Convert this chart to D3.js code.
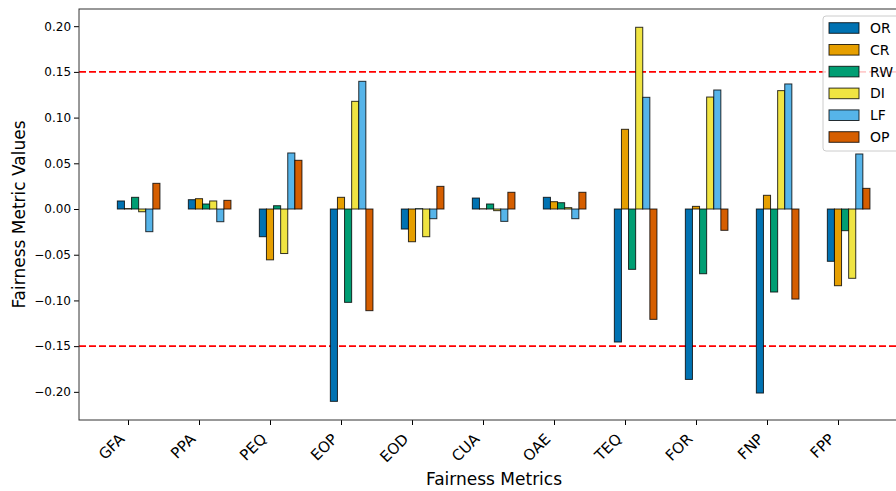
<!DOCTYPE html>
<html>
<head>
<meta charset="utf-8">
<script src="https://cdn.jsdelivr.net/npm/d3@7"></script>
<style>
  html, body { margin: 0; padding: 0; background: #fff; }
  svg { display: block; font-family: "DejaVu Sans", sans-serif; }
</style>
</head>
<body>
<svg id="chart" width="896" height="491"></svg>
<script>
// Fairness metrics (x categories)
const metrics = ["GFA", "PPA", "PEQ", "EOP", "EOD", "CUA", "OAE", "TEQ", "FOR", "FNP", "FPP"];

// One array per mitigation method, values in the order of `metrics`
const OR = [0.0088, 0.0102, -0.0303, -0.2104, -0.0219, 0.0120, 0.0128, -0.1455, -0.1864, -0.2013, -0.0572];
const CR = [0.0005, 0.0113, -0.0556, 0.0128, -0.0358, 0.0003, 0.0080, 0.0872, 0.0029, 0.0150, -0.0839];
const RW = [0.0128, 0.0055, 0.0036, -0.1021, 0.0004, 0.0055, 0.0069, -0.0660, -0.0708, -0.0908, -0.0237];
const DI = [-0.0030, 0.0088, -0.0487, 0.1178, -0.0303, -0.0018, 0.0015, 0.1988, 0.1225, 0.1295, -0.0758];
const LF = [-0.0248, -0.0139, 0.0613, 0.1397, -0.0106, -0.0135, -0.0106, 0.1222, 0.1302, 0.1368, 0.0602];
const OP = [0.0281, 0.0095, 0.0533, -0.1112, 0.0248, 0.0183, 0.0183, -0.1207, -0.0233, -0.0985, 0.0226];

const seriesNames = ["OR", "CR", "RW", "DI", "LF", "OP"];
const seriesValues = [OR, CR, RW, DI, LF, OP];
const seriesColors = ["#0072B2", "#E69F00", "#009E73", "#F0E442", "#56B4E9", "#D55E00"];

const yTicks = [-0.20, -0.15, -0.10, -0.05, 0.00, 0.05, 0.10, 0.15, 0.20];
const thresholds = [0.15, -0.15];

const FONT = "DejaVu Sans";
const svg = d3.select("#chart");

// Plot frame
const plotTop = 9, plotBottom = 420;
const x = d3.scaleLinear().domain([0, metrics.length - 1]).range([128, 838]);
const xMin = -0.69, xMax = 11.0;
const plotLeft = x(xMin), plotRight = x(xMax);
const y = d3.scaleLinear().domain([-0.2308, 0.2188]).range([plotBottom, plotTop]);

const barW = 0.1;         // width of each bar, in category units
const groupStart = -0.15; // offset of the first bar's left edge from the tick

// Threshold lines
svg.append("g").selectAll("line").data(thresholds).join("line")
  .attr("x1", plotLeft).attr("x2", plotRight)
  .attr("y1", d => y(d)).attr("y2", d => y(d))
  .attr("stroke", "#ff0000").attr("stroke-width", 1.8)
  .attr("stroke-dasharray", "7,3");

// Bars
const barsG = svg.append("g");
seriesNames.forEach((name, si) => {
  barsG.append("g").selectAll("rect").data(seriesValues[si]).join("rect")
    .attr("x", (d, i) => x(i + groupStart + barW * si))
    .attr("width", x(barW) - x(0))
    .attr("y", d => y(Math.max(0, d)))
    .attr("height", d => Math.abs(y(d) - y(0)))
    .attr("fill", seriesColors[si])
    .attr("stroke", "#000").attr("stroke-opacity", 0.8).attr("stroke-width", 1);
});

// Axes
const fmt2 = d3.format(".2f");
const yAxis = d3.axisLeft(y).tickValues(yTicks)
  .tickFormat(d => (d < 0 ? "\u2212" : "") + fmt2(Math.abs(d)))
  .tickSize(5).tickPadding(3);
const yG = svg.append("g").attr("transform", `translate(${plotLeft},0)`).call(yAxis)
  .attr("font-family", FONT);
yG.select(".domain").remove();
yG.selectAll("text").attr("font-size", 12).attr("fill", "#000");
yG.selectAll("line").attr("stroke", "#000");

const xAxis = d3.axisBottom(x).tickValues(d3.range(metrics.length)).tickFormat(i => metrics[i]).tickSize(5);
const xG = svg.append("g").attr("transform", `translate(0,${plotBottom})`).call(xAxis)
  .attr("font-family", FONT);
xG.select(".domain").remove();
xG.selectAll("line").attr("stroke", "#000");
xG.selectAll("text")
  .attr("font-size", 15).attr("fill", "#000")
  .attr("text-anchor", "end")
  .attr("dy", null).attr("y", null)
  .attr("transform", "translate(-3,20) rotate(-45)");

// Frame spines
svg.append("rect")
  .attr("x", plotLeft).attr("y", plotTop)
  .attr("width", plotRight - plotLeft).attr("height", plotBottom - plotTop)
  .attr("fill", "none").attr("stroke", "#333").attr("stroke-width", 1);

// Axis titles
svg.append("text")
  .attr("x", (plotLeft + plotRight) / 2).attr("y", 485)
  .attr("text-anchor", "middle").attr("font-size", 17)
  .text("Fairness Metrics");
svg.append("text")
  .attr("transform", `translate(25,${(plotTop + plotBottom) / 2}) rotate(-90)`)
  .attr("text-anchor", "middle").attr("font-size", 17)
  .text("Fairness Metric Values");

// Legend
const lg = svg.append("g").attr("transform", "translate(823,16)");
lg.append("rect")
  .attr("width", 100).attr("height", 135).attr("rx", 3)
  .attr("fill", "#fff").attr("fill-opacity", 0.8)
  .attr("stroke", "#ccc");
const rowH = 21.8;
seriesNames.forEach((name, si) => {
  const g = lg.append("g").attr("transform", `translate(6,${12 + rowH * si})`);
  g.append("rect")
    .attr("x", 0).attr("y", -5.3).attr("width", 30).attr("height", 10.6)
    .attr("fill", seriesColors[si])
    .attr("stroke", "#000").attr("stroke-opacity", 0.8).attr("stroke-width", 1);
  g.append("text")
    .attr("x", 41).attr("y", 5).attr("font-size", 14)
    .text(name);
});
</script>
</body>
</html>
